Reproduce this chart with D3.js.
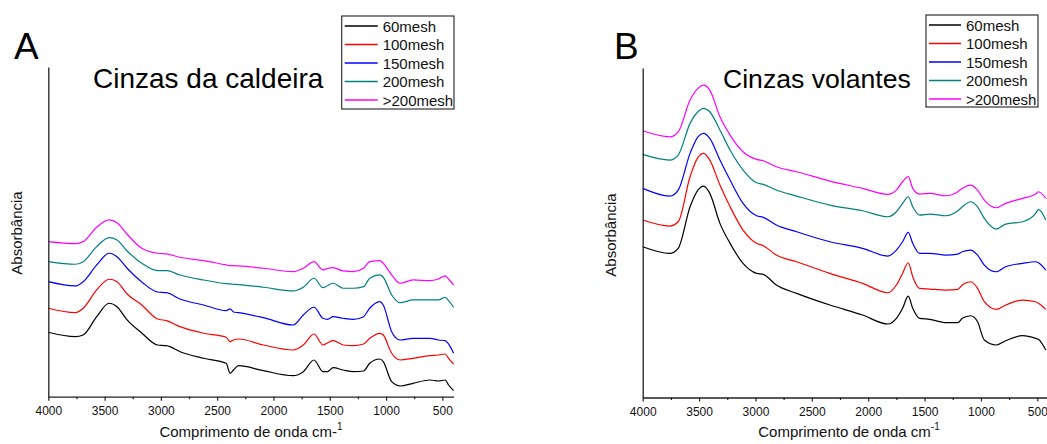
<!DOCTYPE html>
<html>
<head>
<meta charset="utf-8">
<script src="https://cdn.jsdelivr.net/npm/d3@7"></script>
<style>
html,body{margin:0;padding:0;background:#fff;overflow:hidden;}
svg{display:block;font-family:"Liberation Sans",Arial,sans-serif;}
</style>
</head>
<body>
<svg id="chart" width="1047" height="444"></svg>
<script>
// ---------- data (absorbance, arbitrary units, stacked offsets as in the figure) ----------
const seriesNames = ["60mesh", "100mesh", "150mesh", "200mesh", ">200mesh"];
const seriesColors = ["#000000", "#ff0000", "#0000ff", "#008080", "#ff00ff"];
const xTickValues = [4000, 3500, 3000, 2500, 2000, 1500, 1000, 500];
const xMinorTickValues = [3750, 3250, 2750, 2250, 1750, 1250, 750];

// Panel A - Cinzas da caldeira
const wnA = [4000, 3760, 3690, 3570, 3460, 3390, 3300, 3170, 3030, 2950, 2830, 2620, 2420, 2385, 2355, 2310, 2090, 1825, 1735, 1640, 1560, 1520, 1470, 1380, 1290, 1200, 1145, 1055, 1025, 950, 875, 760, 610, 535, 475, 445, 400];
const mesh60A = [64.4, 60.0, 61.7, 80.0, 93.4, 90.0, 76.7, 63.7, 51.7, 51.0, 45.0, 38.4, 33.4, 23.4, 26.7, 31.0, 26.0, 21.0, 25.0, 36.7, 25.0, 25.0, 29.0, 26.7, 25.0, 25.7, 33.4, 37.7, 35.0, 15.0, 10.7, 13.4, 16.7, 15.7, 16.7, 11.7, 6.0];
const mesh100A = [88.4, 84.0, 88.4, 106.7, 117.4, 115.0, 102.7, 91.7, 77.7, 76.0, 70.0, 63.4, 59.4, 55.0, 56.7, 57.7, 51.7, 46.7, 51.7, 62.7, 51.7, 53.7, 56.0, 51.7, 51.0, 52.7, 58.4, 63.4, 61.7, 43.4, 36.7, 38.4, 41.0, 41.7, 42.7, 38.4, 32.7];
const mesh150A = [115.0, 110.7, 115.0, 131.7, 143.4, 140.0, 128.4, 114.7, 104.7, 104.0, 97.7, 91.7, 86.0, 87.7, 84.7, 84.0, 79.0, 71.7, 81.7, 89.4, 78.4, 77.4, 80.0, 78.4, 77.4, 80.0, 88.4, 95.0, 91.7, 65.0, 56.7, 58.4, 58.4, 56.7, 56.0, 52.7, 43.4];
const mesh200A = [135.0, 132.4, 135.0, 150.0, 159.0, 156.7, 145.7, 133.4, 126.0, 126.0, 121.7, 116.7, 113.0, 112.7, 112.4, 112.0, 109.4, 105.7, 109.4, 118.4, 109.0, 111.2, 113.4, 108.4, 108.4, 110.0, 118.4, 121.7, 119.4, 101.7, 94.0, 96.7, 96.7, 96.7, 99.4, 96.0, 89.4];
const meshGt200A = [155.0, 153.0, 155.0, 169.4, 176.7, 174.0, 162.4, 148.4, 143.4, 142.7, 139.4, 136.0, 131.7, 131.0, 131.0, 130.7, 128.4, 125.0, 128.4, 135.0, 126.7, 128.2, 129.0, 125.7, 125.0, 128.4, 135.0, 136.0, 133.4, 121.7, 113.4, 116.7, 116.0, 117.7, 120.7, 117.7, 111.7];

// Panel B - Cinzas volantes
const wnB = [4000, 3760, 3685, 3580, 3510, 3460, 3405, 3315, 3225, 3110, 2990, 2930, 2815, 2635, 2340, 2050, 1825, 1750, 1695, 1645, 1605, 1545, 1455, 1310, 1205, 1165, 1090, 1030, 970, 865, 780, 630, 515, 490, 425];
const mesh60B = [150.8, 144.2, 149.2, 190.8, 207.5, 211.5, 204.2, 174.2, 154.2, 134.2, 124.2, 123.2, 112.5, 104.2, 92.5, 82.5, 73.5, 79.2, 89.2, 101.5, 89.2, 79.2, 78.2, 74.8, 74.8, 79.2, 81.8, 75.8, 57.5, 52.5, 56.8, 61.8, 59.2, 58.2, 47.5];
const mesh100B = [177.5, 171.5, 175.8, 220.8, 240.2, 244.2, 237.5, 212.5, 190.8, 167.5, 154.2, 151.8, 142.5, 135.8, 124.2, 114.2, 104.8, 112.5, 124.2, 134.8, 120.8, 109.2, 108.5, 107.5, 108.2, 112.5, 115.8, 109.2, 95.8, 88.2, 92.5, 97.5, 95.8, 94.2, 88.2];
const mesh150B = [209.2, 201.5, 207.5, 244.2, 260.8, 264.2, 259.2, 237.5, 217.5, 194.2, 181.8, 180.2, 172.5, 165.8, 155.8, 149.2, 141.5, 147.5, 155.8, 165.2, 154.2, 144.2, 144.2, 142.5, 143.5, 145.8, 147.5, 142.5, 132.5, 125.8, 130.8, 134.2, 135.8, 134.8, 127.5];
const mesh200B = [243.2, 237.5, 242.5, 274.2, 285.8, 289.2, 285.8, 267.5, 247.5, 227.5, 214.8, 213.2, 207.5, 201.5, 192.5, 186.8, 180.8, 185.8, 194.2, 200.8, 190.8, 182.5, 183.5, 181.8, 186.8, 190.8, 195.8, 190.8, 179.2, 168.5, 173.5, 175.8, 184.2, 188.2, 177.5];
const meshGt200B = [266.8, 260.8, 265.8, 297.5, 309.2, 312.5, 307.5, 280.8, 262.5, 245.8, 238.2, 236.8, 230.8, 225.8, 216.5, 209.2, 203.2, 207.5, 215.8, 221.0, 209.2, 203.5, 204.2, 201.8, 205.8, 209.2, 212.5, 207.5, 197.5, 189.8, 194.2, 199.2, 203.5, 205.8, 199.2];

// ---------- drawing ----------
const svg = d3.select("#chart");

function drawPanel(cfg) {
  const g = svg.append("g");
  const x = d3.scaleLinear().domain([4000, 400]).range([cfg.left, cfg.right]);
  const y = d3.scaleLinear().domain([0, 329.6]).range([cfg.bottom, cfg.top]);

  // curves
  const line = d3.line().x(d => x(d[0])).y(d => y(d[1])).curve(d3.curveMonotoneX);
  cfg.series.forEach((vals, i) => {
    const pts = cfg.wn.map((w, j) => [w, vals[j]]);
    g.append("path").datum(pts)
      .attr("fill", "none")
      .attr("stroke", seriesColors[i])
      .attr("stroke-width", 1.2)
      .attr("stroke-linejoin", "round")
      .attr("d", line);
  });

  // x axis (major + minor)
  const ax = g.append("g").attr("transform", `translate(0,${cfg.bottom})`)
    .call(d3.axisBottom(x).tickValues(xTickValues).tickSize(4).tickSizeOuter(0).tickPadding(6).tickFormat(d3.format("d")));
  ax.select(".domain").attr("stroke", "#222").attr("stroke-width", 1.3);
  ax.selectAll(".tick line").attr("stroke", "#222").attr("stroke-width", 1.2);
  ax.selectAll(".tick text").attr("font-size", 12).attr("fill", "#111")
    .attr("font-family", "Liberation Sans, Arial, sans-serif");
  const axm = g.append("g").attr("transform", `translate(0,${cfg.bottom})`)
    .call(d3.axisBottom(x).tickValues(xMinorTickValues).tickSize(2.5).tickSizeOuter(0).tickFormat(""));
  axm.select(".domain").remove();
  axm.selectAll(".tick line").attr("stroke", "#222").attr("stroke-width", 1.2);

  // y axis: plain line, no ticks
  const ay = g.append("g").attr("transform", `translate(${cfg.left},0)`)
    .call(d3.axisLeft(y).tickValues([]).tickSizeOuter(0));
  ay.select(".domain").attr("stroke", "#222").attr("stroke-width", 1.3);

  // axis titles
  const xt = g.append("text").attr("x", cfg.xTitleX).attr("y", 437)
    .attr("text-anchor", "middle").attr("font-size", 15).attr("fill", "#111")
    .text("Comprimento de onda cm");
  cfg.unitSuffix(xt);

  g.append("text")
    .attr("transform", `translate(${cfg.yTitleX},${cfg.yTitleY}) rotate(-90)`)
    .attr("text-anchor", "middle").attr("font-size", 15).attr("fill", "#111")
    .text("Absorbância");

  // panel letter and title
  g.append("text").attr("x", cfg.letterX).attr("y", 59)
    .attr("font-size", 37).attr("fill", "#000").text(cfg.letter);
  g.append("text").attr("x", cfg.titleX).attr("y", 88)
    .attr("font-size", cfg.titleSize).attr("fill", "#000").text(cfg.title);

  // legend
  const lg = g.append("g");
  lg.append("rect").attr("x", cfg.legX).attr("y", cfg.legY)
    .attr("width", cfg.legW).attr("height", cfg.legH)
    .attr("fill", "#fff").attr("stroke", "#333").attr("stroke-width", 1.2);
  seriesNames.forEach((name, i) => {
    const ly = cfg.legY + 10 + i * 18.5;
    lg.append("line").attr("x1", cfg.legX + 3).attr("x2", cfg.legX + 3 + cfg.legLine)
      .attr("y1", ly).attr("y2", ly)
      .attr("stroke", seriesColors[i]).attr("stroke-width", 1.5);
    lg.append("text").attr("x", cfg.legX + cfg.legLine + 8).attr("y", ly + 5.5)
      .attr("font-size", 15).attr("fill", "#111").text(name);
  });
}

drawPanel({
  left: 48.3, right: 453.6, top: 67, bottom: 396.7,
  wn: wnA, series: [mesh60A, mesh100A, mesh150A, mesh200A, meshGt200A],
  letter: "A", letterX: 14, title: "Cinzas da caldeira", titleX: 93, titleSize: 28,
  legX: 341.7, legY: 16, legW: 112.3, legH: 93, legLine: 33,
  xTitleX: 251, yTitleX: 22, yTitleY: 233,
  unitSuffix: t => {
    t.append("tspan").text("-");
    t.append("tspan").attr("dy", -7).attr("font-size", 10).text("1");
  }
});

drawPanel({
  left: 642.7, right: 1048.6, top: 68, bottom: 397.5,
  wn: wnB, series: [mesh60B, mesh100B, mesh150B, mesh200B, meshGt200B],
  letter: "B", letterX: 614, title: "Cinzas volantes", titleX: 723, titleSize: 26.6,
  legX: 926, legY: 15, legW: 112, legH: 92, legLine: 32,
  xTitleX: 849, yTitleX: 616, yTitleY: 235,
  unitSuffix: t => {
    t.append("tspan").attr("dy", -7).attr("font-size", 10).text("-1");
  }
});
</script>
</body>
</html>
